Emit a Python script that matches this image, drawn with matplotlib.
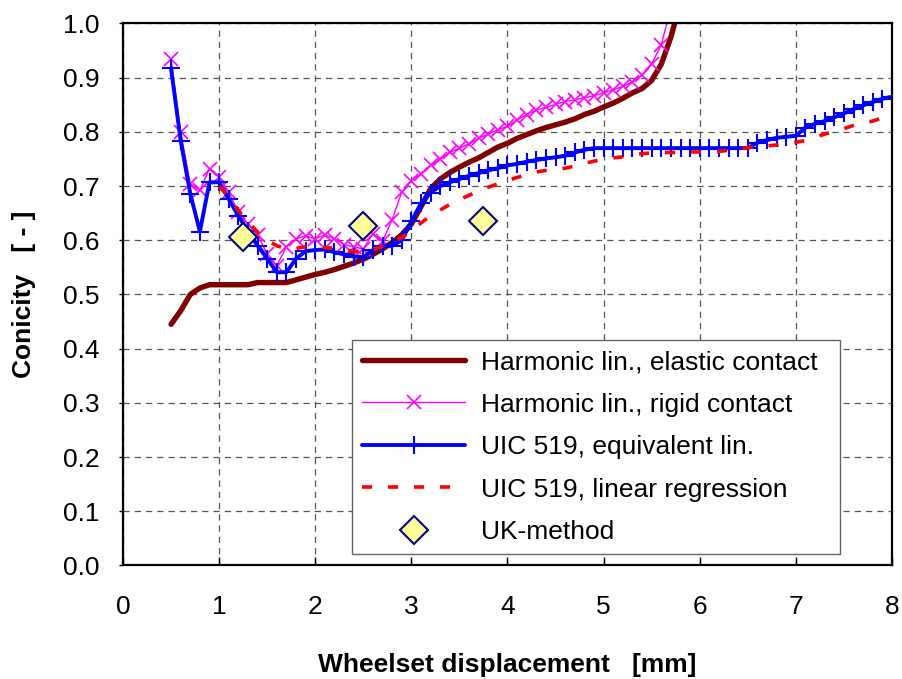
import matplotlib
matplotlib.use("Agg")
import matplotlib.pyplot as plt
import numpy as np

plt.rcParams['font.family'] = ['Liberation Sans', 'DejaVu Sans']

# values every 0.1 mm
elastic_x0 = 0.5
elastic = [0.445, 0.470, 0.500, 0.512, 0.518, 0.518, 0.518, 0.518, 0.518, 0.522,
           0.522, 0.522, 0.522, 0.527, 0.532, 0.537, 0.541, 0.546, 0.552, 0.558,
           0.565, 0.574, 0.584, 0.596, 0.610, 0.630, 0.662, 0.695, 0.713, 0.725,
           0.735, 0.744, 0.752, 0.762, 0.772, 0.779, 0.788, 0.795, 0.802, 0.808,
           0.813, 0.818, 0.824, 0.832, 0.838, 0.846, 0.853, 0.862, 0.872, 0.880,
           0.895, 0.925, 0.975, 1.040, 1.120]

rigid_x0 = 0.5
rigid = [0.935, 0.800, 0.704, 0.692, 0.732, 0.717, 0.689, 0.652, 0.630, 0.610,
         0.575, 0.553, 0.588, 0.603, 0.608, 0.603, 0.610, 0.603, 0.592, 0.588,
         0.584, 0.612, 0.598, 0.638, 0.689, 0.710, 0.722, 0.738, 0.750, 0.762,
         0.770, 0.778, 0.788, 0.796, 0.804, 0.810, 0.822, 0.832, 0.840, 0.845,
         0.851, 0.856, 0.859, 0.863, 0.867, 0.872, 0.878, 0.884, 0.892, 0.905,
         0.926, 0.960, 1.030, 1.120]

uic_x0 = 0.5
uic_equiv = [0.917, 0.784, 0.686, 0.616, 0.707, 0.707, 0.676, 0.645, 0.617, 0.590,
             0.566, 0.541, 0.541, 0.566, 0.580, 0.582, 0.583, 0.578, 0.574, 0.570,
             0.569, 0.582, 0.590, 0.590, 0.600, 0.635, 0.668, 0.688, 0.700, 0.707,
             0.713, 0.719, 0.724, 0.729, 0.733, 0.738, 0.741, 0.745, 0.748, 0.751,
             0.753, 0.756, 0.762, 0.767, 0.770, 0.770, 0.770, 0.770, 0.770, 0.770,
             0.770, 0.770, 0.770, 0.770, 0.770, 0.770, 0.770, 0.770, 0.770, 0.770,
             0.770, 0.780, 0.785, 0.789, 0.791, 0.793, 0.808, 0.815, 0.820, 0.827,
             0.834, 0.842, 0.849, 0.855, 0.861, 0.865]

regr_x0 = 1.0
uic_regr = [0.700, 0.680, 0.655, 0.635, 0.615, 0.600, 0.590, 0.584, 0.585, 0.588,
            0.588, 0.587, 0.585, 0.582, 0.579, 0.578, 0.583, 0.589, 0.595, 0.605,
            0.618, 0.632, 0.645, 0.656, 0.666, 0.675, 0.683, 0.691, 0.698, 0.704,
            0.710, 0.716, 0.721, 0.726, 0.729, 0.731, 0.733, 0.737, 0.742, 0.746,
            0.749, 0.752, 0.754, 0.757, 0.760, 0.761, 0.762, 0.762, 0.762, 0.763,
            0.763, 0.764, 0.764, 0.766, 0.768, 0.771, 0.773, 0.774, 0.776, 0.778,
            0.781, 0.784, 0.790, 0.796, 0.801, 0.806, 0.812, 0.816, 0.820, 0.826]

uk_x = [1.25, 2.5, 3.75]
uk_y = [0.606, 0.627, 0.636]


def xs(x0, vals):
    return x0 + 0.1 * np.arange(len(vals))


fig = plt.figure(figsize=(9.03, 6.79), dpi=100)
ax = fig.add_axes([0.1362, 0.1672, 0.8516, 0.7982])

ax.plot(xs(elastic_x0, elastic), elastic, color='#800000', lw=3.9,
        solid_capstyle='round', label='Harmonic lin., elastic contact')
ax.plot(xs(rigid_x0, rigid), rigid, color='#FF00FF', lw=1.0, marker='x',
        ms=10.5, mew=1.2, label='Harmonic lin., rigid contact')
ax.plot(xs(uic_x0, uic_equiv), uic_equiv, color='#0000FF', lw=2.8, marker='+',
        ms=13, mew=1.5, solid_capstyle='round', label='UIC 519, equivalent lin.')
ax.plot(xs(regr_x0, uic_regr), uic_regr, color='#FF0000', lw=2.6,
        linestyle=(0, (2.8, 4.4)), label='UIC 519, linear regression')
ax.plot(uk_x, uk_y, linestyle='none', marker='D', ms=14, mfc='#FFFF99',
        mec='#000080', mew=1.5, label='UK-method')

ax.set_xlim(0, 8)
ax.set_ylim(0, 1.0)
ax.set_xticks(np.arange(0, 9, 1))
ax.set_yticks(np.arange(0, 1.01, 0.1))
ax.set_yticklabels([f'{v:.1f}' for v in np.arange(0, 1.01, 0.1)])

ax.grid(True, color='#555555', lw=0.9, linestyle=(0, (5, 4)))
ax.set_axisbelow(True)
for s in ax.spines.values():
    s.set_color('black')
    s.set_linewidth(1.6)

ax.tick_params(axis='x', direction='in', length=6, width=1, pad=21, labelsize=19)
ax.tick_params(axis='y', direction='out', length=3, width=1, pad=14, labelsize=19)

ax.set_xlabel('Wheelset displacement   [mm]', fontsize=19, fontweight='bold', labelpad=25)
ax.set_ylabel('Conicity   [ - ]', fontsize=19, fontweight='bold', labelpad=19)

# legend box stretched to the reference width
leg = ax.legend(loc='lower left', bbox_to_anchor=(0.298, 0.021, 0.635, 0.387),
                mode='expand', borderaxespad=0,
                fontsize=19, numpoints=1, handlelength=3.9, handletextpad=0.6,
                labelspacing=0.70, borderpad=0.38, fancybox=False, framealpha=1)
leg.get_frame().set_edgecolor('#666666')
leg.get_frame().set_linewidth(1.0)

fig.savefig('out.png', dpi=100)
